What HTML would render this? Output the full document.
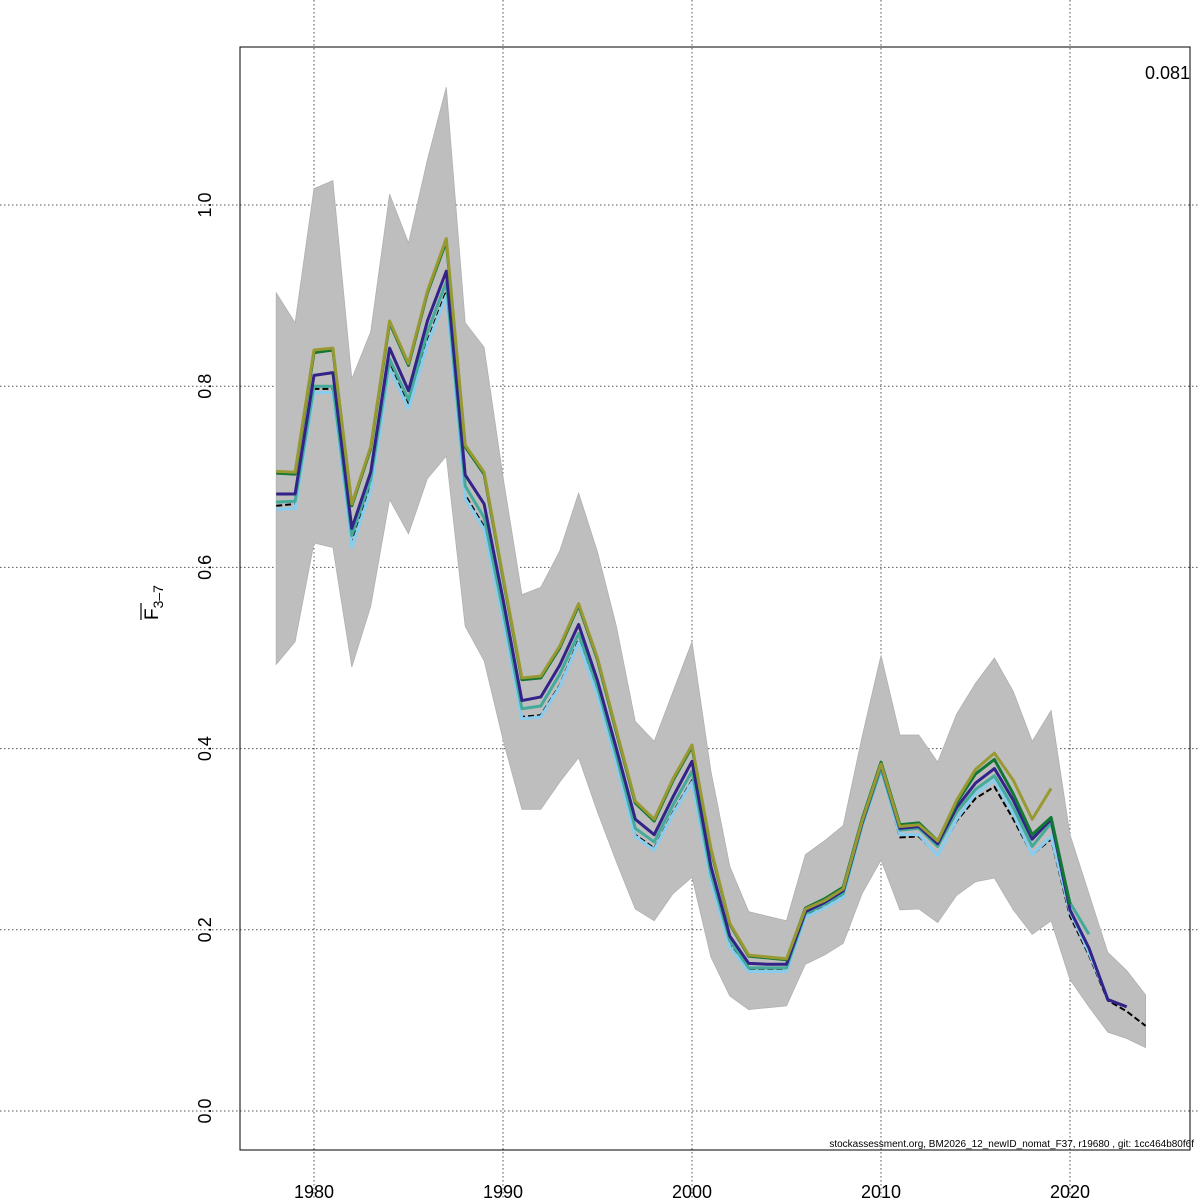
<!DOCTYPE html>
<html><head><meta charset="utf-8"><style>
html,body{margin:0;padding:0;background:#fff;}
svg{display:block;font-family:"Liberation Sans",sans-serif;}
</style></head><body>
<svg id="chart" width="1200" height="1200" viewBox="0 0 1200 1200" xmlns="http://www.w3.org/2000/svg">
<rect width="1200" height="1200" fill="#fff"/>
<g id="grid"></g>
<g id="band"></g>
<g id="lines"></g>
<rect x="240" y="47" width="950" height="1103" fill="none" stroke="#000" stroke-width="1"/>
<g id="axes"></g>
<text transform="translate(158,620) rotate(-90)" font-size="19">F<tspan font-size="14" dy="5">3–7</tspan></text>
<line x1="141" y1="603" x2="141" y2="620" stroke="#000" stroke-width="1.2"/>
<text x="1190" y="79" font-size="18" text-anchor="end">0.081</text>
<text x="1194" y="1147" font-size="10" text-anchor="end">stockassessment.org, BM2026_12_newID_nomat_F37, r19680 , git: 1cc464b80f6f</text>
</svg>
<script>
const years=[1978,1979,1980,1981,1982,1983,1984,1985,1986,1987,1988,1989,1990,1991,1992,1993,1994,1995,1996,1997,1998,1999,2000,2001,2002,2003,2004,2005,2006,2007,2008,2009,2010,2011,2012,2013,2014,2015,2016,2017,2018,2019,2020,2021,2022,2023,2024];
const upper=[0.903,0.870,1.018,1.027,0.808,0.860,1.012,0.958,1.050,1.130,0.870,0.843,0.700,0.570,0.578,0.618,0.682,0.617,0.535,0.430,0.408,0.463,0.518,0.375,0.270,0.220,0.215,0.210,0.283,0.298,0.315,0.413,0.503,0.415,0.415,0.385,0.438,0.472,0.500,0.463,0.408,0.442,0.305,0.240,0.175,0.155,0.128];
const lower=[0.493,0.518,0.627,0.622,0.490,0.557,0.675,0.637,0.698,0.723,0.535,0.497,0.410,0.333,0.333,0.363,0.390,0.330,0.275,0.223,0.210,0.240,0.258,0.170,0.127,0.112,0.114,0.116,0.162,0.172,0.185,0.240,0.277,0.222,0.223,0.208,0.238,0.253,0.257,0.222,0.195,0.210,0.145,0.115,0.087,0.080,0.070];
const base=[0.668,0.670,0.797,0.797,0.628,0.690,0.825,0.780,0.850,0.905,0.680,0.645,0.545,0.435,0.437,0.470,0.520,0.460,0.385,0.305,0.290,0.330,0.365,0.255,0.183,0.155,0.155,0.155,0.215,0.225,0.237,0.315,0.378,0.302,0.303,0.283,0.320,0.345,0.358,0.322,0.283,0.300,0.215,0.172,0.122,0.110,0.094];
const peel1=[0.681,0.681,0.812,0.815,0.643,0.705,0.842,0.795,0.872,0.927,0.702,0.670,0.565,0.453,0.457,0.492,0.537,0.475,0.400,0.322,0.305,0.347,0.386,0.270,0.193,0.163,0.162,0.162,0.220,0.230,0.243,0.318,0.382,0.312,0.314,0.295,0.335,0.362,0.378,0.343,0.300,0.322,0.222,0.180,0.123,0.115];
const peel2=[0.664,0.665,0.793,0.793,0.622,0.685,0.820,0.775,0.846,0.900,0.676,0.642,0.542,0.433,0.435,0.468,0.517,0.458,0.383,0.303,0.288,0.328,0.363,0.253,0.181,0.154,0.154,0.154,0.214,0.224,0.236,0.314,0.376,0.305,0.305,0.282,0.322,0.350,0.365,0.328,0.283,0.303,0.220,0.175,0.125];
const peel3=[0.672,0.673,0.800,0.800,0.635,0.697,0.830,0.785,0.860,0.915,0.690,0.655,0.553,0.444,0.447,0.482,0.527,0.468,0.392,0.312,0.297,0.338,0.375,0.262,0.188,0.158,0.158,0.158,0.218,0.228,0.240,0.316,0.378,0.310,0.312,0.292,0.330,0.355,0.370,0.335,0.292,0.318,0.230,0.195];
const peel4=[0.704,0.703,0.837,0.840,0.668,0.731,0.870,0.823,0.903,0.960,0.733,0.703,0.588,0.476,0.478,0.511,0.558,0.498,0.418,0.340,0.320,0.365,0.402,0.288,0.206,0.171,0.169,0.167,0.224,0.234,0.247,0.322,0.385,0.316,0.318,0.298,0.340,0.372,0.388,0.350,0.305,0.324,0.228];
const peel5=[0.706,0.705,0.840,0.842,0.670,0.733,0.872,0.825,0.905,0.963,0.735,0.705,0.590,0.478,0.480,0.513,0.560,0.500,0.420,0.342,0.322,0.367,0.404,0.290,0.207,0.172,0.170,0.168,0.223,0.232,0.245,0.320,0.383,0.314,0.316,0.298,0.343,0.377,0.395,0.365,0.322,0.356];
const xTicks=[1980,1990,2000,2010,2020];
const yTicks=[0.0,0.2,0.4,0.6,0.8,1.0];
const yTickLabels=["0.0","0.2","0.4","0.6","0.8","1.0"];

const NS="http://www.w3.org/2000/svg";
const X=y=>314+(y-1980)*18.9;
const Y=v=>1111-v*906;
function mk(tag,attrs,parent){const e=document.createElementNS(NS,tag);for(const k in attrs)e.setAttribute(k,attrs[k]);parent.appendChild(e);return e;}
const grid=document.getElementById('grid');
yTicks.forEach(v=>{
  const l=mk('line',{x1:0,x2:1200,y1:Y(v),y2:Y(v),stroke:'#555','stroke-dasharray':'1.5,2.5','stroke-width':1},grid);
  
  
});
xTicks.forEach(t=>{
  const l=mk('line',{x1:X(t),x2:X(t),y1:0,y2:1200,stroke:'#555','stroke-dasharray':'1.5,2.5','stroke-width':1},grid);
  
  
});
const band=document.getElementById('band');
let pts=years.map((y,i)=>X(y)+','+Y(upper[i]));
for(let i=years.length-1;i>=0;i--)pts.push(X(years[i])+','+Y(lower[i]));
const poly=mk('polygon',{points:pts.join(' '),fill:'#bebebe',stroke:'#b0b0b0','stroke-width':0.8},band);


const lines=document.getElementById('lines');
function line(arr,color,w,name,dash){
  const p=mk('polyline',{points:arr.map((v,i)=>X(years[i])+','+Y(v)).join(' '),fill:'none',stroke:color,'stroke-width':w,'stroke-linejoin':'round'},lines);
  if(dash)p.setAttribute('stroke-dasharray',dash);
  
  
}
line(base,'#000000',2,'base-line','6,3');
line(peel2,'#88ccee',3,'peel-2-line');
line(peel3,'#44aa99',3,'peel-3-line');
line(peel1,'#332288',3,'peel-1-line');
line(peel4,'#117733',3,'peel-4-line');
line(peel5,'#999933',3,'peel-5-line');
const axes=document.getElementById('axes');
xTicks.forEach(t=>{
  const tx=mk('text',{x:X(t),y:1198,'font-size':18,'text-anchor':'middle'},axes);
  tx.textContent=t;
  
  
});
yTicks.forEach((v,i)=>{
  const tx=mk('text',{x:0,y:0,'font-size':18,'text-anchor':'middle',transform:`translate(211,${Y(v)}) rotate(-90)`},axes);
  tx.textContent=yTickLabels[i];
  
  
});
</script>
</body></html>
